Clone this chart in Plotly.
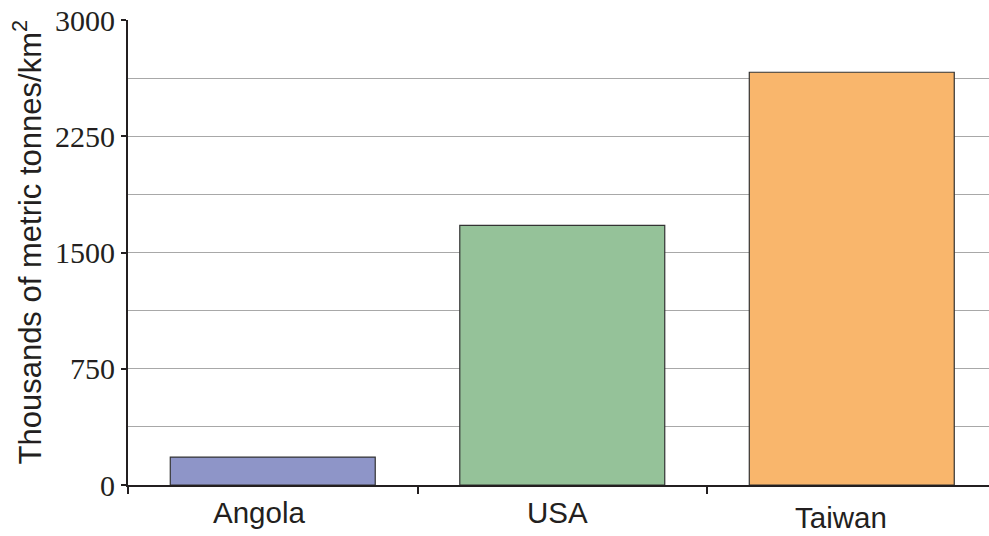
import plotly.graph_objects as go

categories = ["Angola", "USA", "Taiwan"]
values = [180, 1675, 2663]
colors = ["#8E95C8", "#95C299", "#F9B66C"]
y_tickvals = [0, 750, 1500, 2250, 3000]
y_title = "Thousands of metric tonnes/km<sup>2</sup>"

# label placement tweaks (styles)
label_xshift = [-14, -5, -11]
label_yshift = [0, 0, -5]

fig = go.Figure()
fig.add_trace(go.Bar(
    x=categories, y=values,
    marker=dict(color=colors, line=dict(color="#333333", width=1.2)),
    width=0.708,
))

for i, c in enumerate(categories):
    fig.add_annotation(
        x=c, y=0, xref="x", yref="y", text=c, showarrow=False,
        yanchor="top", xanchor="center",
        xshift=label_xshift[i], yshift=-9 + label_yshift[i],
        font=dict(family="Liberation Sans, Arial, sans-serif", size=29.5, color="#231F20"),
    )

fig.add_annotation(
    x=-0.1173, y=0.5215, xref="paper", yref="paper", text=y_title,
    showarrow=False, textangle=-90, xanchor="center", yanchor="middle",
    font=dict(family="Liberation Sans, Arial, sans-serif", size=31, color="#231F20"),
)

fig.update_layout(
    width=989, height=536,
    margin=dict(l=128, r=0, t=20, b=51),
    plot_bgcolor="white", paper_bgcolor="white",
    showlegend=False,
)
fig.update_xaxes(
    type="category",
    range=[-0.5, 2.474],
    showticklabels=False,
    ticks="outside", tickson="boundaries", ticklen=7, tickwidth=2, tickcolor="#231F20",
    showline=True, linecolor="#231F20", linewidth=2,
    showgrid=False, zeroline=False,
)
fig.update_yaxes(
    range=[0, 3000],
    tickvals=y_tickvals,
    ticks="outside", ticklen=5, tickwidth=2, tickcolor="#231F20",
    tickfont=dict(family="Liberation Serif, Times New Roman, serif", size=30, color="#231F20"),
    showline=True, linecolor="#231F20", linewidth=2,
    showgrid=True, gridcolor="#A8A8A8", gridwidth=1,
    minor=dict(dtick=375, showgrid=True, gridcolor="#A8A8A8", gridwidth=1, ticks=""),
    zeroline=False,
)

fig.write_html("out.html")
